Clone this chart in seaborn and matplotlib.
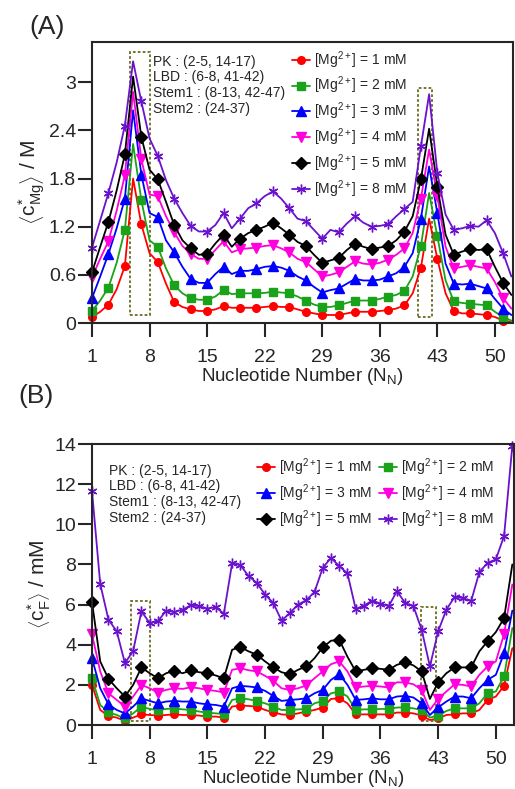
import numpy as np
import pandas as pd
import matplotlib
matplotlib.use("Agg")
import matplotlib.pyplot as plt
from matplotlib.patches import Rectangle
import seaborn as sns

# nucleotide index
nucleotide = np.arange(1, 53)

# (A) <c*_Mg> / M
a_1mM = [0.075, 0.14, 0.23, 0.42, 0.71, 1.80, 1.23, 0.87, 0.76, 0.49, 0.26, 0.20, 0.17, 0.15, 0.15, 0.17,
         0.21, 0.19, 0.19, 0.19, 0.19, 0.20, 0.21, 0.20, 0.20, 0.17, 0.14, 0.12, 0.10, 0.10, 0.10, 0.12,
         0.14, 0.14, 0.14, 0.15, 0.16, 0.18, 0.22, 0.37, 0.69, 1.30, 0.80, 0.37, 0.15, 0.12, 0.12, 0.11,
         0.10, 0.075, 0.03, 0.01]
a_2mM = [0.15, 0.28, 0.44, 0.75, 1.16, 2.23, 1.53, 1.03, 0.95, 0.68, 0.47, 0.37, 0.31, 0.29, 0.29, 0.33,
         0.41, 0.36, 0.37, 0.37, 0.37, 0.375, 0.39, 0.38, 0.37, 0.33, 0.28, 0.23, 0.20, 0.20, 0.22, 0.25,
         0.28, 0.28, 0.28, 0.30, 0.33, 0.35, 0.40, 0.58, 0.96, 1.62, 1.08, 0.53, 0.27, 0.25, 0.24, 0.23,
         0.22, 0.14, 0.075, 0.03]
a_3mM = [0.31, 0.58, 0.86, 1.18, 1.55, 2.65, 1.85, 1.37, 1.32, 1.03, 0.88, 0.70, 0.55, 0.50, 0.50, 0.61,
         0.70, 0.61, 0.65, 0.65, 0.67, 0.70, 0.71, 0.69, 0.65, 0.58, 0.53, 0.45, 0.38, 0.41, 0.43, 0.49,
         0.55, 0.53, 0.53, 0.54, 0.58, 0.62, 0.70, 0.87, 1.30, 1.95, 1.37, 0.74, 0.49, 0.48, 0.49, 0.46,
         0.43, 0.30, 0.18, 0.10]
a_4mM = [0.57, 0.80, 1.02, 1.40, 1.84, 2.88, 2.04, 1.60, 1.58, 1.33, 1.13, 0.96, 0.86, 0.80, 0.80, 0.91,
         1.02, 0.88, 0.92, 0.93, 0.94, 0.96, 0.97, 0.93, 0.88, 0.80, 0.76, 0.67, 0.58, 0.60, 0.63, 0.70,
         0.77, 0.74, 0.73, 0.75, 0.79, 0.85, 0.93, 1.12, 1.55, 2.16, 1.58, 0.95, 0.68, 0.70, 0.72, 0.70,
         0.68, 0.51, 0.31, 0.18]
a_5mM = [0.63, 0.95, 1.26, 1.65, 2.10, 3.07, 2.32, 1.91, 1.79, 1.51, 1.22, 1.03, 0.93, 0.85, 0.86, 0.99,
         1.10, 0.95, 1.05, 1.12, 1.16, 1.20, 1.25, 1.18, 1.10, 1.01, 0.96, 0.85, 0.75, 0.78, 0.81, 0.91,
         0.99, 0.95, 0.92, 0.94, 0.96, 1.03, 1.14, 1.33, 1.79, 2.42, 1.70, 1.10, 0.85, 0.89, 0.92, 0.91,
         0.92, 0.70, 0.50, 0.35]
a_8mM = [0.94, 1.28, 1.62, 2.00, 2.46, 3.26, 2.76, 2.30, 2.08, 1.78, 1.55, 1.37, 1.21, 1.14, 1.14, 1.22,
         1.37, 1.18, 1.30, 1.43, 1.49, 1.58, 1.64, 1.55, 1.43, 1.30, 1.27, 1.16, 1.05, 1.16, 1.13, 1.24,
         1.33, 1.25, 1.20, 1.21, 1.23, 1.33, 1.42, 1.51, 2.20, 2.85, 1.87, 1.35, 1.16, 1.18, 1.21, 1.20,
         1.28, 1.12, 0.87, 0.58]

# (B) <c*_F> / mM
b_1mM = [2.00, 0.75, 0.45, 0.37, 0.20, 0.37, 0.53, 0.50, 0.47, 0.50, 0.53, 0.50, 0.50, 0.47, 0.42, 0.42,
         0.37, 0.92, 0.97, 0.95, 0.92, 0.75, 0.63, 0.53, 0.50, 0.58, 0.67, 0.75, 0.87, 1.30, 1.33, 1.08,
         0.53, 0.53, 0.53, 0.53, 0.53, 0.62, 0.62, 0.58, 0.47, 0.25, 0.33, 0.50, 0.53, 0.58, 0.58, 0.75,
         1.25, 1.42, 1.95, 3.83]
b_2mM = [2.33, 1.00, 0.63, 0.50, 0.33, 0.58, 0.92, 0.80, 0.75, 0.80, 0.83, 0.78, 0.75, 0.67, 0.62, 0.58,
         0.55, 1.25, 1.33, 1.28, 1.20, 1.08, 0.92, 0.75, 0.75, 0.78, 0.80, 1.08, 1.20, 1.58, 1.67, 1.42,
         0.75, 0.78, 0.78, 0.80, 0.80, 0.87, 0.88, 0.83, 0.75, 0.37, 0.47, 0.70, 0.83, 0.83, 0.83, 1.08,
         1.58, 1.67, 2.42, 4.83]
b_3mM = [3.33, 1.83, 1.03, 0.75, 0.58, 0.92, 1.33, 1.20, 1.08, 1.17, 1.20, 1.17, 1.17, 1.08, 1.03, 1.00,
         0.92, 1.83, 1.95, 1.92, 1.87, 1.70, 1.45, 1.20, 1.25, 1.28, 1.33, 1.58, 1.75, 2.25, 2.53, 2.00,
         1.25, 1.28, 1.33, 1.28, 1.28, 1.42, 1.45, 1.37, 1.08, 0.50, 0.88, 1.17, 1.42, 1.42, 1.33, 1.83,
         2.25, 2.50, 3.58, 5.70]
b_4mM = [4.53, 2.67, 1.58, 1.25, 0.92, 1.42, 2.00, 1.83, 1.62, 1.75, 1.83, 1.80, 1.88, 1.83, 1.75, 1.70,
         1.62, 2.75, 2.83, 2.73, 2.67, 2.45, 2.20, 1.83, 1.75, 1.83, 1.97, 2.33, 2.67, 3.03, 3.17, 2.67,
         1.87, 1.92, 1.95, 1.92, 1.87, 2.13, 2.12, 2.03, 1.75, 0.75, 1.30, 1.67, 2.03, 2.00, 1.92, 2.50,
         2.92, 3.17, 4.53, 7.00]
b_5mM = [6.13, 3.17, 2.30, 1.83, 1.42, 2.00, 2.87, 2.58, 2.33, 2.58, 2.70, 2.58, 2.72, 2.63, 2.58, 2.47,
         2.33, 3.75, 3.88, 3.67, 3.50, 3.17, 2.87, 2.63, 2.53, 2.75, 2.92, 3.33, 3.87, 4.20, 4.25, 3.40,
         2.67, 2.75, 2.83, 2.80, 2.75, 3.00, 3.12, 2.97, 2.67, 1.30, 2.13, 2.58, 2.87, 2.87, 2.87, 3.67,
         4.17, 4.63, 5.33, 8.00]
b_8mM = [11.67, 7.03, 5.25, 4.67, 3.08, 3.70, 5.67, 5.08, 5.17, 5.70, 5.63, 5.75, 5.97, 5.92, 5.80, 5.87,
         5.55, 8.05, 7.97, 7.42, 7.08, 6.50, 6.08, 5.20, 5.58, 6.00, 6.22, 6.63, 7.83, 8.33, 7.92, 7.55,
         5.78, 5.95, 6.20, 6.05, 5.92, 6.67, 6.08, 5.92, 4.75, 2.92, 4.67, 5.75, 6.38, 6.33, 6.17, 7.62,
         8.08, 8.25, 9.42, 13.92]

conc = ["1", "2", "3", "4", "5", "8"]
colors = ["#ff0000", "#1aa31a", "#0000ff", "#ff00dd", "#000000", "#6a12cc"]
markers = ["o", "s", "^", "v", "D", (6, 2, 0)]
msizes = [5.5, 5.5, 6.5, 6.5, 6, 7]

region_text = "PK : (2-5, 14-17)\nLBD : (6-8, 41-42)\nStem1 : (8-13, 42-47)\nStem2 : (24-37)"

# dashed boxes around the LBD region: (x0, x1, y0, y1)
boxes_a = [(5.65, 8.05, 0.10, 3.37), (40.6, 42.4, 0.08, 2.93)]
boxes_b = [(5.7, 8.0, 0.2, 6.17), (40.95, 42.8, 0.2, 5.88)]

sns.set_style("ticks")
plt.rcParams["font.family"] = ["Liberation Sans", "DejaVu Sans"]
plt.rcParams["mathtext.fontset"] = "custom"
plt.rcParams["mathtext.rm"] = "Liberation Sans"
plt.rcParams["mathtext.it"] = "Liberation Sans:italic"
plt.rcParams["mathtext.bf"] = "Liberation Sans:bold"

fig = plt.figure(figsize=(5.15, 7.89), dpi=100)
ax_a = fig.add_axes([0.1786, 0.5906, 0.8175, 0.3561])
ax_b = fig.add_axes([0.1786, 0.0811, 0.8194, 0.3561])


def draw_panel(ax, series, every_last):
    for i, vals in enumerate(series):
        df = pd.DataFrame({"n": nucleotide, "v": vals})
        me = 1 if (every_last and i == len(series) - 1) else 2
        sns.lineplot(data=df, x="n", y="v", ax=ax, color=colors[i], marker=markers[i],
                     markersize=msizes[i], markevery=me, markeredgecolor=colors[i],
                     markeredgewidth=1.0, linewidth=1.3, clip_on=False,
                     label="[Mg$^{2+}$] = %s mM" % conc[i])


def style_axes(ax, ymax, yticks):
    ax.set_xlim(1, 52.2)
    ax.set_ylim(0, ymax)
    ax.set_xticks([1, 8, 15, 22, 29, 36, 43, 50])
    ax.set_yticks(yticks)
    for s in ax.spines.values():
        s.set_linewidth(1.5)
        s.set_visible(True)
    ax.tick_params(axis="both", direction="out", length=10, width=1.5, labelsize=14)
    ax.tick_params(axis="x", pad=9)
    ax.tick_params(axis="y", pad=1.5)
    ax.set_xlabel("Nucleotide Number (N$_{\\mathrm{N}}$)", fontsize=13.5, labelpad=0)


def add_boxes(ax, boxes):
    for x0, x1, y0, y1 in boxes:
        ax.add_patch(Rectangle((x0, y0), x1 - x0, y1 - y0, fill=False, edgecolor="#6b6b22",
                               linewidth=1.3, linestyle=(0, (1.5, 1.2)), zorder=1))


# panel A
draw_panel(ax_a, [a_1mM, a_2mM, a_3mM, a_4mM, a_5mM, a_8mM], False)
style_axes(ax_a, 3.5, [0, 0.6, 1.2, 1.8, 2.4, 3])
ax_a.set_yticklabels(["0", "0.6", "1.2", "1.8", "2.4", "3"])
ax_a.set_ylabel(r"$\left\langle \mathrm{c}^{*}_{\mathrm{Mg}} \right\rangle$ / M", fontsize=15, labelpad=1)
add_boxes(ax_a, boxes_a)
ax_a.text(0.144, 0.955, region_text, transform=ax_a.transAxes, fontsize=10, va="top", ha="left",
          linespacing=1.15)
ax_a.legend(loc="upper left", bbox_to_anchor=(0.475, 0.975), frameon=False, fontsize=10,
            handlelength=1.3, handletextpad=0.3, labelspacing=0.3, borderpad=0, borderaxespad=0)
fig.text(0.058, 0.966, "(A)", fontsize=19, va="center", ha="left")

# panel B
draw_panel(ax_b, [b_1mM, b_2mM, b_3mM, b_4mM, b_5mM, b_8mM], True)
style_axes(ax_b, 14, [0, 2, 4, 6, 8, 10, 12, 14])
ax_b.set_ylabel(r"$\left\langle \mathrm{c}^{*}_{\mathrm{F}} \right\rangle$ / mM", fontsize=15, labelpad=1)
add_boxes(ax_b, boxes_b)
ax_b.text(0.04, 0.93, region_text, transform=ax_b.transAxes, fontsize=10, va="top", ha="left",
          linespacing=1.15)
# legend filled row by row: 1 | 2, 3 | 4, 5 | 8
handles, labels = ax_b.get_legend_handles_labels()
order = [0, 2, 4, 1, 3, 5]
ax_b.legend([handles[k] for k in order], [labels[k] for k in order], loc="upper left",
            bbox_to_anchor=(0.39, 0.955), frameon=False, fontsize=10, ncol=2,
            handlelength=1.3, handletextpad=0.3, labelspacing=0.3, columnspacing=0.5,
            borderpad=0, borderaxespad=0)
fig.text(0.035, 0.4985, "(B)", fontsize=19, va="center", ha="left")

fig.savefig("out.png", dpi=100)
